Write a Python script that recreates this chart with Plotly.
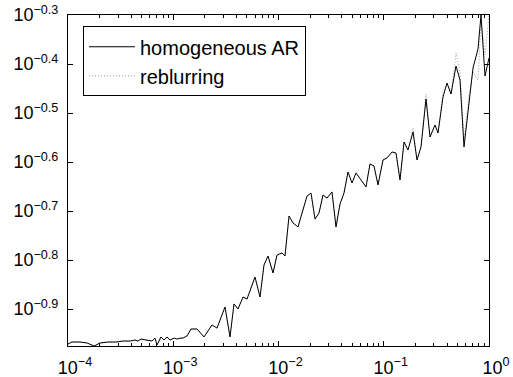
import plotly.graph_objects as go

# sampled values (x on a log scale from 1e-4 to 1)
x_vals = [
    1.00e-4, 1.09e-4, 1.30e-4, 1.52e-4, 1.77e-4, 2.01e-4, 2.40e-4, 2.86e-4,
    3.33e-4, 3.88e-4, 4.33e-4, 4.62e-4, 4.94e-4, 5.75e-4, 6.28e-4, 6.71e-4,
    7.01e-4, 7.65e-4, 8.17e-4, 8.72e-4, 9.31e-4, 1.017e-3, 1.086e-3, 1.159e-3,
    1.237e-3, 1.351e-3, 1.474e-3, 1.682e-3, 1.960e-3, 2.335e-3, 2.604e-3, 3.102e-3,
    3.461e-3, 3.778e-3, 4.124e-3, 4.600e-3, 5.02e-3, 5.98e-3, 6.67e-3, 7.28e-3,
    7.95e-3, 8.87e-3, 9.67e-3, 1.080e-2, 1.153e-2, 1.259e-2, 1.374e-2, 1.532e-2,
    1.866e-2, 2.036e-2, 2.223e-2, 2.426e-2, 2.648e-2, 2.890e-2, 3.224e-2, 3.518e-2,
    3.840e-2, 4.191e-2, 4.574e-2, 4.993e-2, 5.449e-2, 6.08e-2, 6.78e-2, 7.40e-2,
    8.08e-2, 8.82e-2, 9.84e-2, 0.1074, 0.1198, 0.1308, 0.1427, 0.1558,
    0.1700, 0.1897, 0.2070, 0.2259, 0.2520, 0.2751, 0.3069, 0.3277,
    0.3656, 0.3990, 0.4355, 0.4860, 0.5303, 0.5788, 0.6457, 0.7047,
    0.7862, 0.8396, 0.9163, 1.0,
]

homogeneous_ar = [
    0.1068, 0.1078, 0.1078, 0.1073, 0.1058, 0.1073, 0.1078, 0.1078,
    0.1083, 0.1083, 0.1088, 0.1083, 0.1093, 0.1088, 0.1083, 0.1098,
    0.1063, 0.1104, 0.1088, 0.1104, 0.1088, 0.1098, 0.1093, 0.1098,
    0.1098, 0.1109, 0.1146, 0.1146, 0.1104, 0.1168, 0.1151, 0.1271,
    0.1104, 0.1289, 0.1259, 0.1332, 0.1319, 0.1463, 0.1332, 0.1548,
    0.1615, 0.1491, 0.1622, 0.1638, 0.1615, 0.1949, 0.1886, 0.1851,
    0.2141, 0.2171, 0.1921, 0.1976, 0.2151, 0.2120, 0.2182, 0.1851,
    0.2062, 0.2171, 0.2397, 0.2276, 0.2386, 0.2309, 0.2234, 0.2489,
    0.2465, 0.2255, 0.2536, 0.2560, 0.2633, 0.2620, 0.2309, 0.2760,
    0.2658, 0.2892, 0.2536, 0.2696, 0.3377, 0.2825, 0.2989, 0.2879,
    0.3409, 0.3640, 0.3457, 0.3944, 0.3692, 0.2696, 0.3361, 0.3907,
    0.4272, 0.5012, 0.3762, 0.4095,
]

reblurring = [
    0.1068, 0.1078, 0.1078, 0.1073, 0.1058, 0.1073, 0.1078, 0.1078,
    0.1083, 0.1083, 0.1088, 0.1083, 0.1093, 0.1088, 0.1083, 0.1098,
    0.1063, 0.1104, 0.1088, 0.1104, 0.1088, 0.1098, 0.1093, 0.1098,
    0.1098, 0.1109, 0.1146, 0.1146, 0.1104, 0.1168, 0.1151, 0.1271,
    0.1104, 0.1289, 0.1259, 0.1332, 0.1319, 0.1463, 0.1332, 0.1548,
    0.1615, 0.1491, 0.1622, 0.1638, 0.1615, 0.1949, 0.1886, 0.1851,
    0.2141, 0.2171, 0.1921, 0.1976, 0.2151, 0.2120, 0.2182, 0.1851,
    0.2062, 0.2171, 0.2397, 0.2276, 0.2386, 0.2309, 0.2234, 0.2489,
    0.2465, 0.2255, 0.2536, 0.2560, 0.2633, 0.2620, 0.2309, 0.2760,
    0.2658, 0.2947, 0.2536, 0.2696, 0.3457, 0.2825, 0.2989, 0.2879,
    0.3490, 0.3640, 0.3457, 0.4193, 0.3835, 0.2786, 0.3440, 0.3835,
    0.3692, 0.4896, 0.4154, 0.5012,
]

# axis ticks
x_ticks = [1e-4, 1e-3, 1e-2, 1e-1, 1]
x_tick_text = ["10<sup>−4</sup>", "10<sup>−3</sup>", "10<sup>−2</sup>",
               "10<sup>−1</sup>", "10<sup>0</sup>"]
x_minor = [m * 10.0 ** k for k in (-4, -3, -2, -1) for m in range(2, 10)]

y_ticks = [10 ** -0.9, 10 ** -0.8, 10 ** -0.7, 10 ** -0.6,
           10 ** -0.5, 10 ** -0.4, 10 ** -0.3]
y_tick_text = ["10<sup>−0.9</sup>", "10<sup>−0.8</sup>", "10<sup>−0.7</sup>",
               "10<sup>−0.6</sup>", "10<sup>−0.5</sup>", "10<sup>−0.4</sup>",
               "10<sup>−0.3</sup>"]

FONT = "Liberation Sans, Arial, Helvetica, sans-serif"

fig = go.Figure()
fig.add_trace(go.Scatter(
    x=x_vals, y=reblurring, mode="lines", name="reblurring",
    legendrank=2,
    line=dict(color="#9a9a9a", width=1, dash="1px,2px"),
))
fig.add_trace(go.Scatter(
    x=x_vals, y=homogeneous_ar, mode="lines", name="homogeneous AR",
    legendrank=1,
    line=dict(color="black", width=1),
))

axis_common = dict(
    showline=True, linecolor="black", linewidth=1, mirror="allticks",
    ticks="inside", tickcolor="black", showgrid=False, zeroline=False,
    automargin=False,
    tickfont=dict(family=FONT, size=18, color="black"),
)

fig.update_xaxes(
    type="log", range=[-4, 0], tickmode="array",
    tickvals=x_ticks, ticktext=x_tick_text, ticklen=5,
    ticklabelstandoff=5, ticklabelshift=7,
    minor=dict(tickmode="array", tickvals=x_minor, ticks="inside",
               ticklen=3, tickcolor="black", showgrid=False),
    **axis_common,
)
fig.update_yaxes(
    type="log", range=[-0.9755, -0.3], tickmode="array",
    tickvals=y_ticks, ticktext=y_tick_text, ticklen=5,
    ticklabelstandoff=5,
    **axis_common,
)

fig.update_layout(
    width=513, height=377,
    margin=dict(l=68, r=24, t=15, b=31),
    plot_bgcolor="white", paper_bgcolor="white",
    font=dict(family=FONT, size=18, color="black"),
    showlegend=True,
    legend=dict(
        x=0.0356, y=0.966, xanchor="left", yanchor="top",
        bgcolor="white", bordercolor="black", borderwidth=1,
        font=dict(family=FONT, size=20, color="black"),
        itemwidth=46,
    ),
)

fig.write_html("out.html")
